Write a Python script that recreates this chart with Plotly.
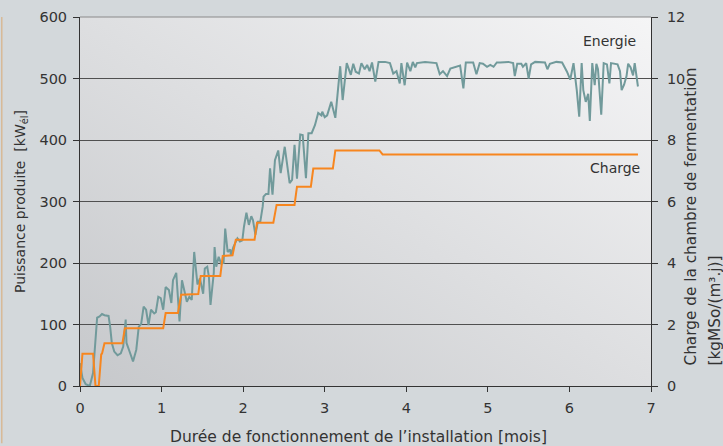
import base64
import plotly.graph_objects as go

# ---- data ----
energie_mois = [0.00, 0.03, 0.07, 0.12, 0.16, 0.19, 0.21, 0.24, 0.27, 0.30, 0.35, 0.37, 0.39, 0.42, 0.46,
                0.50, 0.53, 0.56, 0.57, 0.60, 0.63, 0.65, 0.69, 0.72, 0.75, 0.78, 0.81, 0.84, 0.87, 0.91,
                0.93, 0.96, 0.99, 1.02, 1.05, 1.09, 1.12, 1.14, 1.18, 1.22, 1.25, 1.28, 1.31, 1.34, 1.37,
                1.40, 1.44, 1.47, 1.51, 1.53, 1.56, 1.58, 1.60, 1.64, 1.65, 1.67, 1.70, 1.73, 1.76, 1.78,
                1.81, 1.84, 1.85, 1.88, 1.91, 1.93, 1.96, 1.99, 2.01, 2.04, 2.07, 2.10, 2.12, 2.15, 2.18,
                2.21, 2.24, 2.25, 2.28, 2.31, 2.33, 2.36, 2.39, 2.43, 2.46, 2.49, 2.51, 2.57, 2.60, 2.63,
                2.66, 2.70, 2.73, 2.77, 2.80, 2.84, 2.88, 2.92, 2.96, 2.97, 3.00, 3.03, 3.08, 3.13, 3.19,
                3.22, 3.27, 3.32, 3.35, 3.38, 3.42, 3.45, 3.49, 3.52, 3.55, 3.58, 3.62, 3.66, 3.74, 3.80,
                3.84, 3.88, 3.92, 3.94, 3.98, 4.01, 4.05, 4.08, 4.11, 4.13, 4.23, 4.37, 4.41, 4.45, 4.50,
                4.54, 4.60, 4.66, 4.70, 4.73, 4.82, 4.86, 4.90, 4.94, 4.99, 5.03, 5.07, 5.11, 5.15, 5.25,
                5.31, 5.33, 5.36, 5.41, 5.43, 5.47, 5.50, 5.53, 5.58, 5.70, 5.73, 5.76, 5.84, 5.91, 5.97,
                6.01, 6.05, 6.07, 6.09, 6.12, 6.15, 6.17, 6.20, 6.23, 6.25, 6.28, 6.31, 6.33, 6.35, 6.39,
                6.42, 6.46, 6.49, 6.51, 6.56, 6.59, 6.62, 6.64, 6.67, 6.70, 6.72, 6.75, 6.78, 6.80, 6.84]
energie_kw = [37, 13, 3, 0, 21, 75, 111, 113, 117, 115, 114, 96, 70, 56, 50,
              53, 64, 108, 70, 59, 46, 40, 59, 96, 101, 129, 124, 99, 124, 118,
              120, 145, 143, 124, 161, 156, 135, 172, 184, 105, 172, 153, 137, 145, 140,
              218, 165, 175, 150, 191, 194, 178, 132, 184, 226, 194, 210, 199, 200, 256,
              218, 222, 213, 226, 235, 240, 235, 237, 259, 282, 262, 276, 270, 246, 267,
              267, 292, 308, 312, 312, 354, 311, 367, 383, 346, 377, 389, 330, 335, 392,
              337, 409, 408, 338, 411, 411, 424, 444, 440, 446, 437, 440, 462, 436, 520,
              465, 525, 506, 524, 511, 508, 525, 515, 522, 512, 526, 495, 527, 527, 525,
              508, 512, 492, 525, 489, 526, 512, 527, 518, 525, 527, 525, 507, 512, 504,
              516, 518, 521, 484, 526, 526, 507, 525, 524, 519, 522, 519, 526, 526, 527,
              525, 504, 524, 524, 519, 525, 500, 523, 527, 526, 515, 524, 527, 526, 511,
              498, 525, 505, 481, 438, 525, 481, 462, 475, 431, 525, 489, 524, 515, 441,
              525, 523, 492, 525, 524, 523, 512, 481, 490, 504, 524, 518, 505, 525, 487]

charge_mois = [0.00, 0.03, 0.16, 0.19, 0.23, 0.26, 0.27, 0.30, 0.52, 0.55, 1.02, 1.05, 1.20, 1.24,
               1.45, 1.48, 1.72, 1.75, 1.87, 1.91, 2.14, 2.17, 2.37, 2.41, 2.63, 2.66, 2.83, 2.86,
               3.10, 3.13, 3.67, 3.71, 6.84]
charge_val = [0.0, 1.05, 1.05, 0.0, 0.0, 1.03, 1.05, 1.39, 1.39, 1.88, 1.88, 2.37, 2.37, 2.97,
              2.99, 3.58, 3.58, 4.23, 4.25, 4.76, 4.76, 5.31, 5.31, 5.89, 5.89, 6.48, 6.48, 7.07,
              7.07, 7.66, 7.66, 7.53, 7.53]

x_ticks = [0, 1, 2, 3, 4, 5, 6, 7]
y_ticks = [0, 100, 200, 300, 400, 500, 600]
y2_ticks = [0, 2, 4, 6, 8, 10, 12]

# ---- background gradient (diagonal) ----
svg = ('<svg xmlns="http://www.w3.org/2000/svg" width="100" height="100" preserveAspectRatio="none" '
       'viewBox="0 0 100 100"><defs><linearGradient id="g" x1="0" y1="1" x2="1" y2="0">'
       '<stop offset="0" stop-color="#c6c8cb"/><stop offset="1" stop-color="#f5f5f6"/>'
       '</linearGradient></defs><rect width="100" height="100" fill="url(#g)"/></svg>')
bg_uri = "data:image/svg+xml;base64," + base64.b64encode(svg.encode()).decode()

TXT = "#333333"
FONT = "DejaVu Sans"

fig = go.Figure()
fig.add_trace(go.Scatter(x=energie_mois, y=energie_kw, mode="lines", name="Energie",
                         line=dict(color="#719a9b", width=2), yaxis="y"))
fig.add_trace(go.Scatter(x=charge_mois, y=charge_val, mode="lines", name="Charge",
                         line=dict(color="#f7861f", width=2), yaxis="y2"))

fig.update_layout(
    width=723, height=446,
    margin=dict(l=80, r=72, t=17, b=60, autoexpand=False),
    paper_bgcolor="#d3d8db",
    plot_bgcolor="rgba(0,0,0,0)",
    showlegend=False,
    font=dict(family=FONT, size=14, color=TXT),
    images=[dict(source=bg_uri, xref="paper", yref="paper", x=0, y=1, sizex=1, sizey=1,
                 xanchor="left", yanchor="top", sizing="stretch", layer="below")],
    xaxis=dict(range=[0, 7], tickvals=x_ticks, ticks="outside", ticklen=5, tickcolor="#333",
               showline=True, linecolor="#333", linewidth=1, mirror=False, showgrid=False,
               zeroline=False, tickfont=dict(size=14.5, color=TXT), automargin=False,
               ticklabelstandoff=4),
    yaxis=dict(range=[0, 600], tickvals=y_ticks, ticks="outside", ticklen=6, tickcolor="#333",
               showline=True, linecolor="#333", linewidth=1, showgrid=True,
               gridcolor="#505050", gridwidth=1.3, zeroline=False, automargin=False,
               tickfont=dict(size=14.5, color=TXT), ticklabelstandoff=3,
               title=dict(text="Puissance produite  [kW<sub>él</sub>]",
                          font=dict(size=14, color=TXT), standoff=10)),
    yaxis2=dict(range=[0, 12], tickvals=y2_ticks, overlaying="y", side="right", ticks="outside",
                ticklen=6, tickcolor="#333", showline=True, linecolor="#333", linewidth=1,
                showgrid=False, zeroline=False, automargin=False,
                tickfont=dict(size=14.5, color=TXT), ticklabelstandoff=6),
    annotations=[
        dict(text="Energie", x=0.978, y=0.935, xref="paper", yref="paper", xanchor="right",
             yanchor="middle", showarrow=False, font=dict(size=14, color=TXT)),
        dict(text="Charge", x=0.984, y=0.59, xref="paper", yref="paper", xanchor="right",
             yanchor="middle", showarrow=False, font=dict(size=14, color=TXT)),
        dict(text="Durée de fonctionnement de l’installation [mois]", x=0.487, y=-0.138,
             xref="paper", yref="paper", xanchor="center", yanchor="middle", showarrow=False,
             font=dict(size=15.5, color=TXT)),
        dict(text="Charge de la chambre de fermentation", textangle=-90, x=1.070, y=0.05,
             xref="paper", yref="paper", xanchor="center", yanchor="bottom", showarrow=False,
             font=dict(size=15.3, color=TXT)),
        dict(text="[kgMSo/(m³.j)]", textangle=-90, x=1.112, y=0.05,
             xref="paper", yref="paper", xanchor="center", yanchor="bottom", showarrow=False,
             font=dict(size=15.3, color=TXT)),
    ],
    shapes=[dict(type="line", xref="paper", yref="paper", x0=1.0, x1=0.0, y0=1, y1=1,
                 line=dict(color="#8a8a8a", width=1), layer="above"),
            dict(type="line", xref="paper", yref="paper", x0=-0.137, x1=-0.137, y0=-0.155, y1=1.0,
                 line=dict(color="#d8b996", width=1.5))],
)

fig.write_html("out.html", config={"displayModeBar": False},
               post_script="document.body.style.margin='0';")
